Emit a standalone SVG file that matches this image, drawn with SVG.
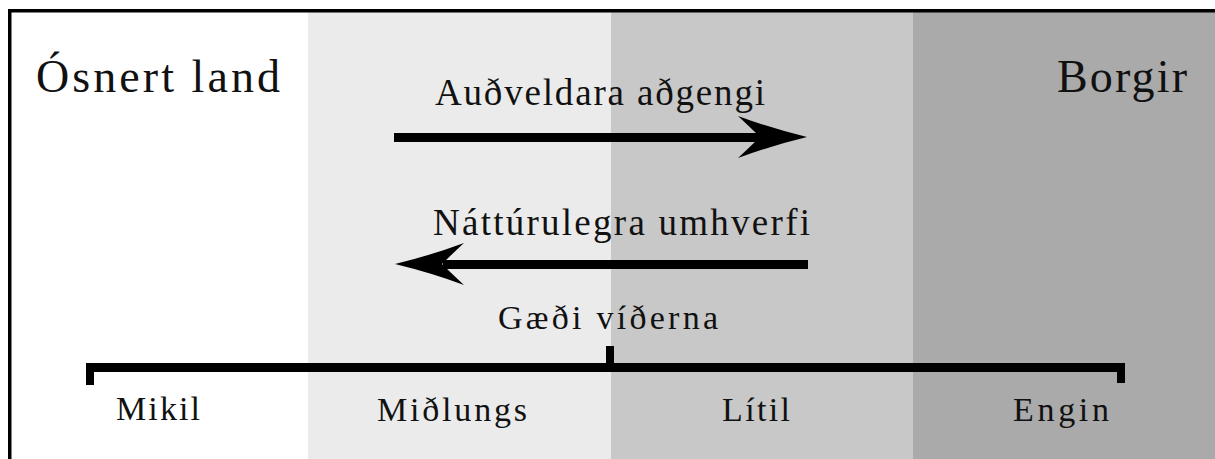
<svg xmlns="http://www.w3.org/2000/svg" width="1215" height="459" viewBox="0 0 1215 459">
<style>
text{font-family:"Liberation Serif","DejaVu Serif",serif;fill:#111;}
.big{font-size:46px;}
.mid{font-size:37px;}
.sm{font-size:34px;}
.ink{fill:#000;}
</style>
<defs>
<path id="head" d="M0,0 Q-37,-9 -69,-21 Q-55,-8 -47,0 Q-55,8 -69,21 Q-37,9 0,0 Z"/>
</defs>
<g id="bands">
<rect x="0" y="0" width="1215" height="459" fill="#ffffff"/>
<rect x="308" y="11" width="303" height="448" fill="#ebebeb"/>
<rect x="611" y="11" width="302" height="448" fill="#c8c8c8"/>
<rect x="913" y="11" width="302" height="448" fill="#aaaaaa"/>
<rect x="8" y="9" width="1207" height="3.5" fill="#000"/>
<rect x="8" y="9" width="3.5" height="450" fill="#000"/>
</g>
<g id="node-osnert-land"><text class="big" x="36" y="92" textLength="244" lengthAdjust="spacing">Ósnert land</text></g>
<g id="node-borgir"><text class="big" x="1057" y="92" textLength="130" lengthAdjust="spacing">Borgir</text></g>
<g id="node-audveldara"><text class="mid" x="435" y="105" textLength="330" lengthAdjust="spacing">Auðveldara aðgengi</text></g>
<g id="node-natturulegra"><text class="mid" x="433" y="235" textLength="377" lengthAdjust="spacing">Náttúrulegra umhverfi</text></g>
<g id="node-gaedi"><text class="sm" x="498" y="329" textLength="220" lengthAdjust="spacing">Gæði víðerna</text></g>
<g id="node-mikil"><text class="sm" x="116" y="420" textLength="84" lengthAdjust="spacing">Mikil</text></g>
<g id="node-midlungs"><text class="sm" x="377" y="421" textLength="150" lengthAdjust="spacing">Miðlungs</text></g>
<g id="node-litil"><text class="sm" x="722" y="421" textLength="68" lengthAdjust="spacing">Lítil</text></g>
<g id="node-engin"><text class="sm" x="1013" y="421" textLength="96" lengthAdjust="spacing">Engin</text></g>
<g id="connectors">
<rect class="ink" x="394" y="133" width="368" height="9"/>
<use href="#head" transform="translate(807,137)"/>
<rect class="ink" x="443" y="260" width="365" height="9"/>
<use href="#head" transform="translate(395,264) scale(-1,1)"/>
<rect class="ink" x="86" y="363" width="1039" height="9"/>
<rect class="ink" x="86" y="363" width="8" height="22"/>
<rect class="ink" x="1117" y="363" width="8" height="20"/>
<rect class="ink" x="606" y="346" width="8" height="20"/>
</g>
</svg>
